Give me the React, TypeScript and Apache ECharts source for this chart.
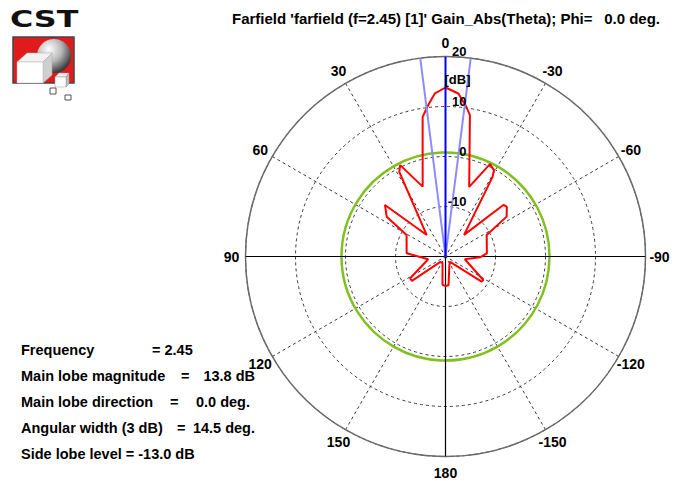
import React, { useEffect, useRef } from 'react';
import * as echarts from 'echarts';

// ---------- data ----------
const titleMain = "Farfield 'farfield (f=2.45) [1]' Gain_Abs(Theta); Phi=";
const titleValue = '0.0 deg.';

// CST theta (deg, positive = left side of the plot) and gain (dB)
const thetaDeg = [
  0, 3.7, 6.5, 9.3, 18.1, 26.4, 28.6, 41.2, 49.6, 55.9, 61.0, 85.3, 99.0, 121.6, 125.9, 136.6, 155.0, 174.0, 180,
  -174, -156, -139, -124.8, -121.9, -98, -91.3, -85.6, -62.4, -56.9, -50.9, -48.3, -40.7, -30.6, -29.3, -25.7, -18.8,
  -9.8, -7.7, -4.5, 0,
];
const gainDb = [
  13.8, 12.7, 10.5, 8.3, -5.3, 0.4, -0.7, -14.3, -4.1, -5.8, -11.1, -12.2, -16.5, -11.7, -11.7, -18.5, -18.6, -14.3, -14.1,
  -14.2, -18.1, -18.6, -11.2, -11.1, -16.1, -13.1, -11.7, -10.7, -5.4, -4.2, -4.5, -14.3, -1.5, -0.2, 0.5, -5.3,
  8.7, 10.4, 12.7, 13.8,
];

const radialMin = -20;
const radialMax = 20;
const radialLabels = [20, 10, 0, -10];
const angleTicks = [0, 30, 60, 90, 120, 150, 180, -150, -120, -90, -60, -30];
const angleTickStep = 30;
const mainLobeDirection = 0;
const angularWidth3dB = 14.5;
const sideLobeThreshold = 0.8; // main lobe 13.8 dB + side lobe level -13.0 dB

const infoLines = [
  { label: 'Frequency', eq: '= 2.45', eqX: 152, value: '', valueRight: 0 },
  { label: 'Main lobe magnitude', eq: '=', eqX: 181, value: '13.8 dB', valueRight: 255 },
  { label: 'Main lobe direction', eq: '=', eqX: 170, value: '0.0 deg.', valueRight: 250 },
  { label: 'Angular width (3 dB)', eq: '=', eqX: 177, value: '14.5 deg.', valueRight: 255 },
  { label: 'Side lobe level = -13.0 dB', eq: '', eqX: 0, value: '', valueRight: 0 },
];

const W = 675;
const H = 481;
const FAMILY = '"Liberation Sans", Arial, sans-serif';
const FONT_TITLE = `bold 15px ${FAMILY}`;
const FONT_INFO = `bold 14.5px ${FAMILY}`;
const FONT_AXIS = `bold 13px ${FAMILY}`;
const FONT_ANGLE = `bold 14px ${FAMILY}`;

function logoGraphics(): any[] {
  return [
    {
      type: 'text', x: 10, y: 8, scaleX: 1.38, z: 20,
      style: { text: 'CST', x: 0, y: 0, font: 'bold 23px "DejaVu Sans", sans-serif', fill: '#111', verticalAlign: 'top' },
    },
    { type: 'rect', z: 20, shape: { x: 13, y: 37, width: 61, height: 46 }, style: { fill: '#e01b1b', stroke: '#444', lineWidth: 1.5 } },
    {
      type: 'circle', z: 21, shape: { cx: 54, cy: 56, r: 17 },
      style: {
        fill: new echarts.graphic.RadialGradient(0.35, 0.3, 0.75, [
          { offset: 0, color: '#ffffff' },
          { offset: 0.5, color: '#b8b8b8' },
          { offset: 1, color: '#303030' },
        ]),
      },
    },
    { type: 'polygon', z: 22, shape: { points: [[17, 62], [27, 53], [52, 53], [43, 62]] }, style: { fill: '#f2f2f2', stroke: '#aaa', lineWidth: 0.5 } },
    { type: 'polygon', z: 22, shape: { points: [[43, 62], [52, 53], [52, 75], [43, 83]] }, style: { fill: '#cfcfcf', stroke: '#aaa', lineWidth: 0.5 } },
    { type: 'rect', z: 22, shape: { x: 17, y: 62, width: 26, height: 21 }, style: { fill: '#ffffff', stroke: '#bbb', lineWidth: 0.5 } },
    { type: 'polygon', z: 23, shape: { points: [[55, 77], [59, 73], [69, 73], [66, 77]] }, style: { fill: '#eee', stroke: '#999', lineWidth: 0.5 } },
    { type: 'polygon', z: 23, shape: { points: [[66, 77], [69, 73], [69, 84], [66, 87]] }, style: { fill: '#bbb', stroke: '#999', lineWidth: 0.5 } },
    { type: 'rect', z: 23, shape: { x: 55, y: 77, width: 11, height: 10 }, style: { fill: '#fff', stroke: '#999', lineWidth: 0.5 } },
    { type: 'rect', z: 23, shape: { x: 50, y: 88, width: 6, height: 6 }, style: { fill: '#fff', stroke: '#555', lineWidth: 1 } },
    { type: 'rect', z: 23, shape: { x: 65, y: 95, width: 6, height: 5 }, style: { fill: '#fff', stroke: '#555', lineWidth: 1 } },
  ];
}

function textGraphics(): any[] {
  const out: any[] = [
    { type: 'text', x: 232, y: 18, z: 20, style: { text: titleMain, font: FONT_TITLE, fill: '#000', verticalAlign: 'middle' } },
    { type: 'text', x: 660, y: 18, z: 20, style: { text: titleValue, font: FONT_TITLE, fill: '#000', align: 'right', verticalAlign: 'middle' } },
  ];
  infoLines.forEach((l, i) => {
    const y = 350 + i * 26;
    out.push({ type: 'text', x: 21, y, z: 20, style: { text: l.label, font: FONT_INFO, fill: '#000', verticalAlign: 'middle' } });
    if (l.eq) out.push({ type: 'text', x: l.eqX, y, z: 20, style: { text: l.eq, font: FONT_INFO, fill: '#000', verticalAlign: 'middle' } });
    if (l.value) out.push({ type: 'text', x: l.valueRight, y, z: 20, style: { text: l.value, font: FONT_INFO, fill: '#000', align: 'right', verticalAlign: 'middle' } });
  });
  return out;
}

export default function App() {
  const ref = useRef<HTMLDivElement>(null);

  useEffect(() => {
    if (!ref.current) return;
    const chart = echarts.init(ref.current, undefined, { renderer: 'svg', width: W, height: H });

    const toAngle = (t: number) => (t < 0 ? t + 360 : t);
    const redData = thetaDeg.map((t, i) => [gainDb[i], toAngle(t)]);

    const option: any = {
      animation: false,
      backgroundColor: '#ffffff',
      polar: { center: [445.5, 256.5], radius: 200 },
      angleAxis: {
        type: 'value',
        min: 0,
        max: 360,
        interval: angleTickStep,
        startAngle: 90,
        clockwise: false,
        axisLine: { show: true, lineStyle: { color: '#6a6a6a', width: 1.5 } },
        axisTick: { show: false },
        axisLabel: { show: false },
        splitLine: { show: true, lineStyle: { color: '#3a3a3a', width: 1, type: [3, 3] } },
      },
      radiusAxis: {
        type: 'value',
        min: radialMin,
        max: radialMax,
        interval: 10,
        axisLine: { show: false },
        axisTick: { show: false },
        axisLabel: { show: false },
        splitLine: { show: true, lineStyle: { color: '#3a3a3a', width: 1, type: [3, 3] } },
      },
      series: [
        {
          type: 'line', coordinateSystem: 'polar', symbol: 'none', silent: true, z: 2, clip: false,
          data: [[radialMax, 90], [radialMax, 270]],
          lineStyle: { color: '#000', width: 1.2 },
        },
        {
          type: 'line', coordinateSystem: 'polar', symbol: 'none', silent: true, z: 2, clip: false,
          data: [[radialMin, 0], [radialMax, 180]],
          lineStyle: { color: '#000', width: 1.2 },
        },
        {
          type: 'line', coordinateSystem: 'polar', symbol: 'none', silent: true, z: 3, clip: false,
          data: redData,
          lineStyle: { color: '#ff0000', width: 2 },
        },
        {
          type: 'line', coordinateSystem: 'polar', symbol: 'none', silent: true, z: 4, clip: false,
          data: [[radialMax, toAngle(angularWidth3dB / 2)], [radialMin, 0], [radialMax, toAngle(-angularWidth3dB / 2)]],
          lineStyle: { color: '#8c8cff', width: 2 },
        },
        {
          type: 'line', coordinateSystem: 'polar', symbol: 'none', silent: true, z: 5, clip: false,
          data: [[radialMin, mainLobeDirection], [radialMax, mainLobeDirection]],
          lineStyle: { color: '#0000ff', width: 2 },
        },
      ],
    };
    chart.setOption(option);

    const toPx = (r: number, a: number) => chart.convertToPixel({ polarIndex: 0 } as any, [r, a]) as unknown as number[];
    const extra: any[] = [];
    try {
      const c = toPx(radialMin, 0);
      const g = toPx(sideLobeThreshold, 0);
      const rg = Math.hypot(g[0] - c[0], g[1] - c[1]);
      extra.push({ type: 'circle', z: 1, silent: true, shape: { cx: c[0], cy: c[1], r: rg }, style: { fill: 'none', stroke: '#80c020', lineWidth: 2.5 } });
      // angle labels, centred just outside the outer circle
      angleTicks.forEach((t) => {
        const q = toPx(radialMax, toAngle(t));
        const dx = q[0] - c[0];
        const dy = q[1] - c[1];
        const rr = Math.hypot(dx, dy);
        const k = (rr + 14) / rr;
        extra.push({
          type: 'text', z: 20, x: c[0] + dx * k, y: c[1] + dy * k + (t === 180 ? 2 : 0),
          style: { text: String(t), font: FONT_ANGLE, fill: '#000', align: 'center', verticalAlign: 'middle' },
        });
      });
      radialLabels.forEach((v) => {
        const p = toPx(v, 0);
        extra.push({
          type: 'text', z: 21, x: p[0] + 21, y: p[1] + 1,
          style: { text: String(v), font: FONT_AXIS, fill: '#000', align: 'right', verticalAlign: 'bottom' },
        });
      });
      const u = toPx(15.5, 0);
      extra.push({ type: 'text', z: 20, x: u[0] + 12, y: u[1], style: { text: '[dB]', font: FONT_AXIS, fill: '#000', align: 'center', verticalAlign: 'middle' } });
    } catch (e) {
      // ignore
    }
    chart.setOption({ graphic: { elements: [...logoGraphics(), ...textGraphics(), ...extra] } });

    return () => chart.dispose();
  }, []);

  return <div ref={ref} style={{ position: 'fixed', left: 0, top: 0, width: W, height: H, background: '#fff' }} />;
}
